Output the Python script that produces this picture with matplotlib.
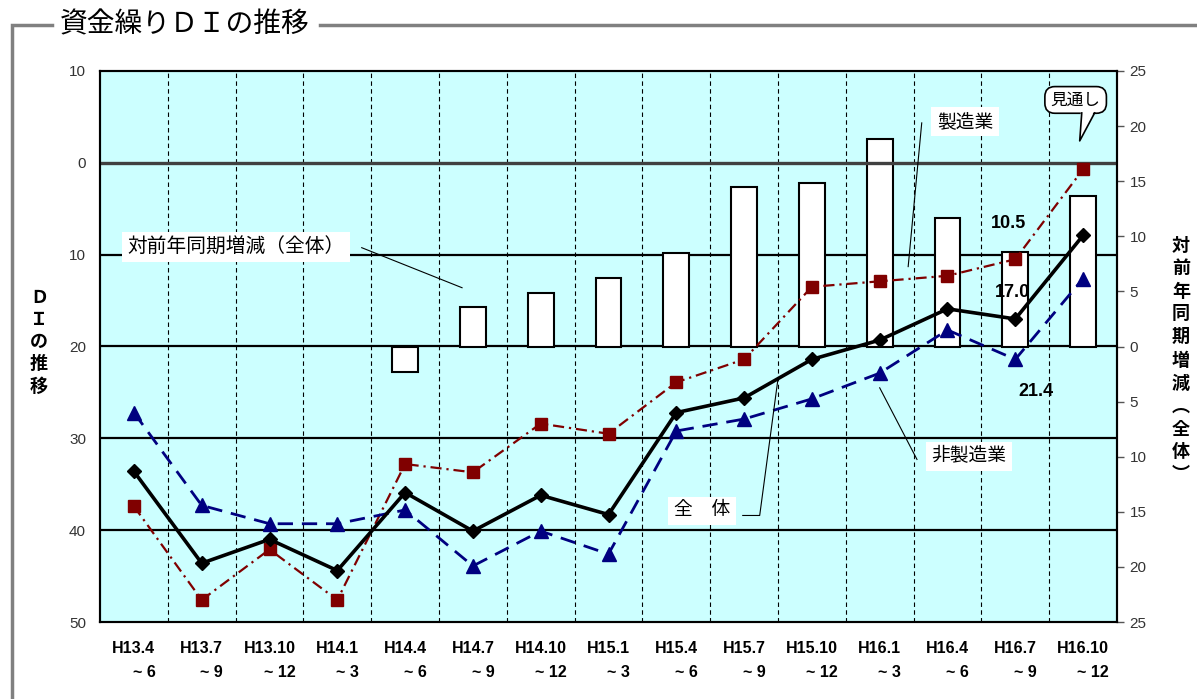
import numpy as np
import matplotlib
matplotlib.use("Agg")
import matplotlib.pyplot as plt
from matplotlib.lines import Line2D
from matplotlib.ticker import FuncFormatter
from matplotlib.transforms import blended_transform_factory

plt.rcParams["font.family"] = ["Liberation Sans", "Noto Sans CJK JP"]

# quarters (Heisei era)
periods = ["H13.4\n~ 6", "H13.7\n~ 9", "H13.10\n~ 12", "H14.1\n~ 3",
           "H14.4\n~ 6", "H14.7\n~ 9", "H14.10\n~ 12", "H15.1\n~ 3",
           "H15.4\n~ 6", "H15.7\n~ 9", "H15.10\n~ 12", "H16.1\n~ 3",
           "H16.4\n~ 6", "H16.7\n~ 9", "H16.10\n~ 12"]

# DI (left axis)
overall = [-33.6, -43.6, -41.0, -44.4, -35.9, -40.1, -36.2, -38.3,
           -27.2, -25.6, -21.4, -19.3, -15.9, -17.0, -7.9]
manufacturing = [-37.4, -47.6, -42.1, -47.6, -32.8, -33.7, -28.4, -29.5,
                 -23.9, -21.4, -13.5, -12.9, -12.3, -10.5, -0.7]
non_manufacturing = [-27.2, -37.3, -39.3, -39.3, -37.8, -43.9, -40.1, -42.6,
                     -29.2, -27.9, -25.7, -22.9, -18.2, -21.4, -12.6]

# change from same quarter of previous year, overall (right axis)
yoy_change = [np.nan, np.nan, np.nan, np.nan, -2.3, 3.6, 4.9, 6.2,
              8.5, 14.5, 14.8, 18.8, 11.7, 8.6, 13.7]

W, H = 1197, 699
fig = plt.figure(figsize=(W / 100, H / 100), dpi=100)
ax = fig.add_axes([100 / W, 77 / H, 1017 / W, 551 / H])
ax2 = ax.twinx()
ax.set_zorder(ax2.get_zorder() + 1)
ax.patch.set_visible(False)
ax2.patch.set_visible(True)
ax2.patch.set_facecolor("#CCFFFF")

x = np.arange(len(periods))
ax.set_xlim(-0.5, len(periods) - 0.5)
ax.set_ylim(-50, 10)
ax2.set_ylim(-25, 25)

# background: quarter dividers and DI grid lines, below the bars
for b in x[:-1] + 0.5:
    ax2.axvline(b, color="black", lw=0.8, ls=(0, (4, 3)), zorder=1)
grid_tr = blended_transform_factory(ax2.transAxes, ax.transData)
for v in [-10, -20, -30, -40]:
    ax2.add_line(Line2D([0, 1], [v, v], transform=grid_tr, color="black", lw=1.6, zorder=1))

yoy = np.array(yoy_change)
ok = ~np.isnan(yoy)
ax2.bar(x[ok], yoy[ok], width=0.38, color="white", edgecolor="black", lw=1.5, zorder=2)

ax.axhline(0, color="#404040", lw=2.4, zorder=1)

ax.plot(x, manufacturing, color="#800000", lw=1.6, dashes=(5, 2.2, 1, 2.2),
        marker="s", ms=8.6, mec="#800000", mfc="#800000", zorder=4)
ax.plot(x, non_manufacturing, color="#000080", lw=2.0, dashes=(5.5, 3.2),
        marker="^", ms=10, mec="#000080", mfc="#000080", zorder=4)
ax.plot(x, overall, color="black", lw=2.6, marker="D", ms=7, mec="black", mfc="black", zorder=5)

# axes, ticks
for a in (ax, ax2):
    for s in a.spines.values():
        s.set_linewidth(1.5)
        s.set_color("black")

absfmt = FuncFormatter(lambda v, p: f"{abs(v):g}")
ax.set_yticks(range(-50, 11, 10))
ax.yaxis.set_major_formatter(absfmt)
ax.tick_params(axis="y", length=0, pad=10, labelsize=11, labelcolor="#333333")
ax.set_xticks(x)
ax.set_xticklabels(periods, fontweight="bold", fontsize=11.5, multialignment="right", linespacing=1.75)
ax.tick_params(axis="x", length=0, pad=14)

ax2.set_yticks(range(-25, 26, 5))
ax2.yaxis.set_major_formatter(absfmt)
ax2.tick_params(axis="y", direction="out", length=5, width=1, color="#555555", pad=4,
                labelsize=11, labelcolor="#333333")

# value labels for H16.7
ax.annotate(f"{abs(manufacturing[13]):.1f}", (x[13], manufacturing[13]), xytext=(-7, 36),
            textcoords="offset pixels", ha="center", va="center", fontsize=13, fontweight="bold", zorder=3)
ax.annotate(f"{abs(overall[13]):.1f}", (x[13], overall[13]), xytext=(-3, 26),
            textcoords="offset pixels", ha="center", va="center", fontsize=13, fontweight="bold", zorder=3)
ax.annotate(f"{abs(non_manufacturing[13]):.1f}", (x[13], non_manufacturing[13]), xytext=(21, -32),
            textcoords="offset pixels", ha="center", va="center", fontsize=13, fontweight="bold", zorder=3)

# series callouts
box = dict(facecolor="white", edgecolor="none", pad=4)
ax.text(-0.1, -9.2, "対前年同期増減（全体）", ha="left", va="center", fontsize=14.2, bbox=box, zorder=6)
ax.plot([3.36, 4.84], [-9.24, -13.6], color="black", lw=0.8, zorder=6)

ax.text(12.26, 4.46, "製造業", ha="center", va="center", fontsize=13.5, bbox=box, zorder=6)
ax.plot([11.62, 11.42], [4.35, -11.3], color="black", lw=0.8, zorder=6)

ax.text(12.32, -31.96, "非製造業", ha="center", va="center", fontsize=13.5, bbox=box, zorder=6)
ax.plot([11.0, 11.55], [-24.5, -32.3], color="black", lw=0.8, zorder=6)

ax.text(8.38, -37.9, "全　体", ha="center", va="center", fontsize=13.5, bbox=box, zorder=6)
ax.plot([8.98, 9.23, 9.50], [-38.4, -38.4, -23.5], color="black", lw=0.8, zorder=6)

# forecast bubble
ax.text(13.89, 6.85, "見通し", ha="center", va="center", fontsize=12, zorder=7,
        bbox=dict(boxstyle="round,pad=0.35,rounding_size=0.6", fc="white", ec="black", lw=1.2))
ax.fill([13.98, 13.95, 14.17], [5.95, 2.39, 5.95], color="white", zorder=8, clip_on=False)
ax.plot([13.98, 13.95, 14.17], [5.43, 2.39, 5.43], color="black", lw=1.2, zorder=8)

# axis titles, stacked vertically
fig.text(39 / W, 1 - 343 / H, "Ｄ\nＩ\nの\n推\n移", ha="center", va="center",
         fontsize=13, fontweight="bold", linespacing=1.4)
fig.text(1181 / W, 1 - 361 / H, "対\n前\n年\n同\n期\n増\n減\n︵\n全\n体\n︶", ha="center", va="center",
         fontsize=13, fontweight="bold", linespacing=1.45)

# title and frame
fig.text(60 / W, 1 - 25 / H, "資金繰りＤＩの推移", ha="left", va="center", fontsize=20)
fig.add_artist(Line2D([52 / W, 11.5 / W, 11.5 / W], [1 - 25 / H, 1 - 25 / H, 0],
                      color="#808080", lw=2.5, solid_joinstyle="miter"))
fig.add_artist(Line2D([320 / W, 1], [1 - 25 / H, 1 - 25 / H], color="#808080", lw=2.5))

fig.savefig("out.png", dpi=100)
